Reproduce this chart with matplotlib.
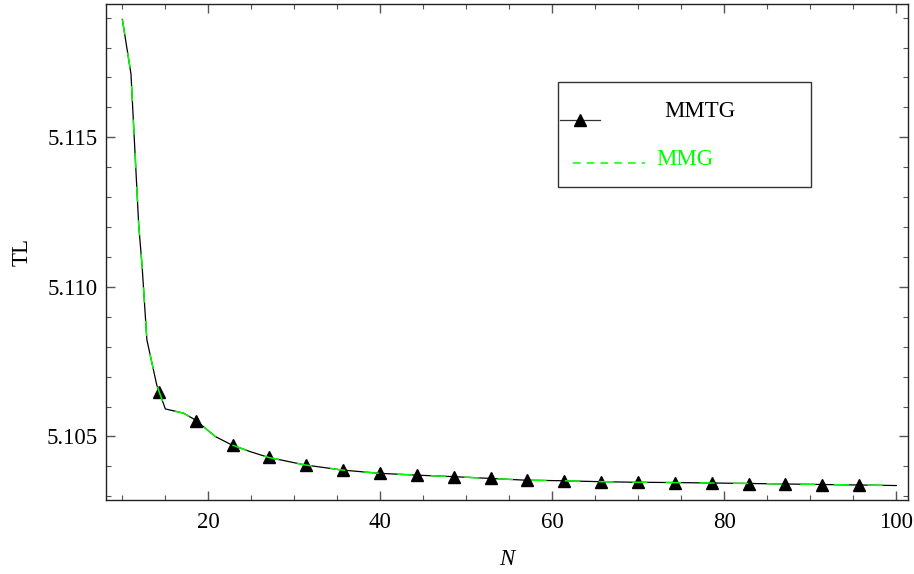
import numpy as np
import matplotlib
matplotlib.use("Agg")
import matplotlib.pyplot as plt
from matplotlib.lines import Line2D
from matplotlib.patches import Rectangle
from matplotlib.ticker import MultipleLocator, FormatStrFormatter

plt.rcParams['font.family'] = ['Liberation Serif', 'DejaVu Serif']

# TL curve vs N (both methods give the same curve)
N_curve = [10, 11, 11.9, 12.3, 12.85, 14.0, 15.0, 17.1, 18.5, 20.8, 22.7, 24.9,
           27.0, 31.2, 35.5, 39.8, 44.0, 48.3, 52.6, 56.8, 61.1, 65.4, 69.6,
           73.9, 80, 90, 100]
TL_curve = [5.11894, 5.11712, 5.11207, 5.11067, 5.10823, 5.10672, 5.10592,
            5.10578, 5.10555, 5.10500, 5.10472, 5.10449, 5.10430, 5.10405,
            5.10388, 5.10377, 5.10371, 5.10366, 5.10360, 5.10354, 5.10352,
            5.10349, 5.10347, 5.10346, 5.10344, 5.10340, 5.10336]

# triangle markers on the MMTG curve
N_mark = [14.3, 18.6, 22.9, 27.1, 31.4, 35.7, 40.0, 44.3, 48.6, 52.9, 57.1,
          61.4, 65.7, 70.0, 74.3, 78.6, 82.9, 87.1, 91.4, 95.7]
TL_mark = [5.10648, 5.10552, 5.10470, 5.10430, 5.10404, 5.10388, 5.10377,
           5.10371, 5.10366, 5.10360, 5.10354, 5.10352, 5.10349, 5.10347,
           5.10345, 5.10344, 5.10342, 5.10340, 5.10339, 5.10338]

fig = plt.figure(figsize=(9.14, 5.74), dpi=100)
ax = fig.add_axes([0.116, 0.129, 0.8775, 0.864])

ax.plot(N_curve, TL_curve, color='black', lw=0.9)
ax.plot(N_mark, TL_mark, ls='None', marker='^', ms=9, color='black')
ax.plot(N_curve, TL_curve, color='#00ff00', lw=1.1, dashes=(10, 12))

ax.set_xlim(8.1, 101.36)
ax.set_ylim(5.102878, 5.119455)

ax.xaxis.set_major_locator(MultipleLocator(20))
ax.xaxis.set_minor_locator(MultipleLocator(5))
ax.yaxis.set_major_locator(MultipleLocator(0.005))
ax.yaxis.set_minor_locator(MultipleLocator(0.001))
ax.yaxis.set_major_formatter(FormatStrFormatter('%.3f'))

ax.tick_params(which='both', direction='in', top=True, right=True,
               color='#555555', labelsize=16.5)
ax.tick_params(which='major', length=6.5, width=1)
ax.tick_params(which='minor', length=3.5, width=0.8)
ax.tick_params(axis='x', pad=9)
ax.tick_params(axis='y', pad=6)
for s in ax.spines.values():
    s.set_linewidth(1.0)
    s.set_color('#222222')

ax.set_xlabel('N', fontsize=16.5, fontstyle='italic', labelpad=11)
ax.set_ylabel('TL', fontsize=16.5, labelpad=10)

# hand-drawn legend box
tr = ax.transAxes
ax.add_patch(Rectangle((0.5636, 0.6317), 0.3154, 0.2117, transform=tr,
                       fill=False, edgecolor='#333333', lw=1.0))
ax.add_line(Line2D([0.566, 0.616], [0.766, 0.766], transform=tr,
                   color='#333333', lw=0.9))
ax.add_line(Line2D([0.591], [0.766], transform=tr, marker='^', ms=9,
                   color='black', ls='None'))
ax.text(0.7406, 0.784, 'MMTG', transform=tr, fontsize=16.5, ha='center',
        va='center', color='black')
ax.add_line(Line2D([0.582, 0.672], [0.679, 0.679], transform=tr,
                   color='#00ff00', lw=1.1, dashes=(5, 4)))
ax.text(0.6867, 0.6865, 'MMG', transform=tr, fontsize=16.5, ha='left',
        va='center', color='#00ff00')

fig.savefig('out.png', dpi=100)
